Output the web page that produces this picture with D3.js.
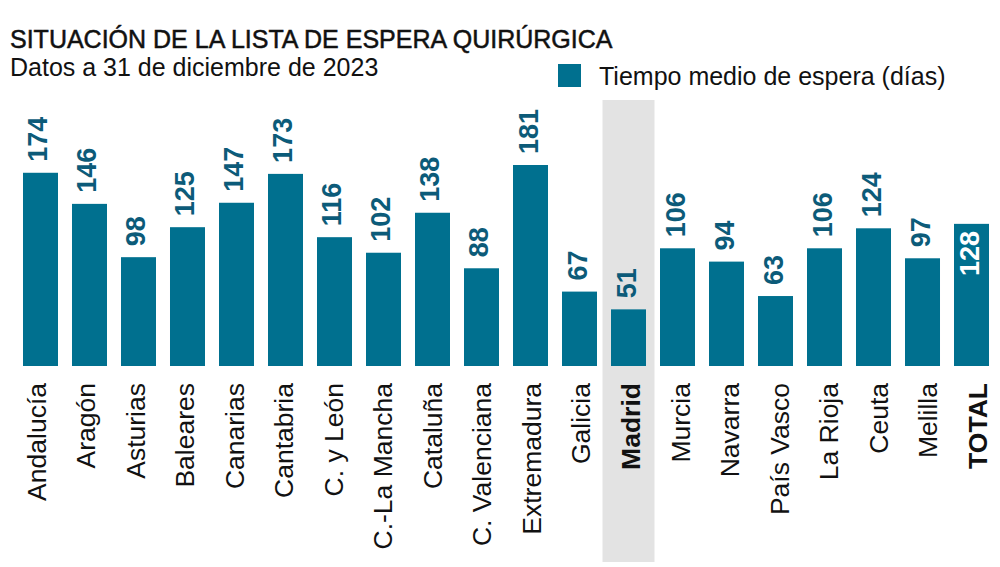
<!DOCTYPE html>
<html>
<head>
<meta charset="utf-8">
<script src="https://cdn.jsdelivr.net/npm/d3@7"></script>
<style>
  body { margin: 0; background: #fff; }
  svg { display: block; font-family: "Liberation Sans", Arial, sans-serif; }
</style>
</head>
<body>
<svg id="chart" width="1000" height="567"></svg>
<script>
// data
const regions = ["Andalucía", "Aragón", "Asturias", "Baleares", "Canarias", "Cantabria",
  "C. y León", "C.-La Mancha", "Cataluña", "C. Valenciana", "Extremadura", "Galicia",
  "Madrid", "Murcia", "Navarra", "País Vasco", "La Rioja", "Ceuta", "Melilla", "TOTAL"];
const waitDays = [174, 146, 98, 125, 147, 173, 116, 102, 138, 88, 181, 67,
  51, 106, 94, 63, 106, 124, 97, 128];
const highlighted = ["Madrid"];
const totalLabel = "TOTAL";

const barColor = "#00708f";
const labelColor = "#0c5b79";

const svg = d3.select("#chart");

// title and subtitle
svg.append("text")
  .attr("x", 10).attr("y", 48)
  .attr("font-size", 25)
  .attr("fill", "#111")
  .attr("stroke", "#111").attr("stroke-width", 0.5)
  .text("SITUACIÓN DE LA LISTA DE ESPERA QUIRÚRGICA");

svg.append("text")
  .attr("x", 10).attr("y", 76)
  .attr("font-size", 25)
  .attr("fill", "#111")
  .text("Datos a 31 de diciembre de 2023");

// legend
svg.append("rect")
  .attr("x", 558).attr("y", 64)
  .attr("width", 23).attr("height", 23)
  .attr("fill", barColor);
svg.append("text")
  .attr("x", 599).attr("y", 85)
  .attr("font-size", 25)
  .attr("fill", "#111")
  .text("Tiempo medio de espera (días)");

// scales
const baseline = 366;
const x = d3.scaleBand()
  .domain(regions)
  .range([16, 996])
  .paddingInner(0.2857)
  .paddingOuter(0.1428);

const y = d3.scaleLinear()
  .domain([0, 181])
  .range([baseline, 165]);

// category labels sit on a slightly wider spacing than the bars
const xLabel = d3.scalePoint()
  .domain(regions)
  .range([45.7, 986.7]);

// highlight band
svg.selectAll("rect.hl")
  .data(highlighted)
  .enter().append("rect")
  .attr("class", "hl")
  .attr("x", d => x(d) + x.bandwidth() / 2 - 26)
  .attr("width", 52)
  .attr("y", 100)
  .attr("height", 462)
  .attr("fill", "#e3e3e3");

const data = regions.map((r, i) => ({ region: r, value: waitDays[i] }));

// bars
svg.selectAll("rect.bar")
  .data(data)
  .enter().append("rect")
  .attr("class", "bar")
  .attr("x", d => x(d.region))
  .attr("width", x.bandwidth())
  .attr("y", d => y(d.value))
  .attr("height", d => baseline - y(d.value))
  .attr("fill", barColor);

// value labels
svg.selectAll("text.val")
  .data(data)
  .enter().append("text")
  .attr("class", "val")
  .attr("transform", d => {
    const cx = x(d.region) + x.bandwidth() / 2 + 7;
    const ty = d.region === totalLabel ? y(d.value) + 7 : y(d.value) - 11;
    return `translate(${cx},${ty}) rotate(-90)`;
  })
  .attr("text-anchor", d => d.region === totalLabel ? "end" : "start")
  .attr("font-size", 27)
  .attr("font-weight", "bold")
  .attr("fill", d => d.region === totalLabel ? "#fff" : labelColor)
  .text(d => d.value);

// category labels
svg.selectAll("text.cat")
  .data(regions)
  .enter().append("text")
  .attr("class", "cat")
  .attr("transform", d => `translate(${xLabel(d)},383) rotate(-90)`)
  .attr("text-anchor", "end")
  .attr("font-size", 26.5)
  .attr("font-weight", d => (highlighted.includes(d) || d === totalLabel) ? "bold" : "normal")
  .attr("fill", "#111")
  .text(d => d);
</script>
</body>
</html>
